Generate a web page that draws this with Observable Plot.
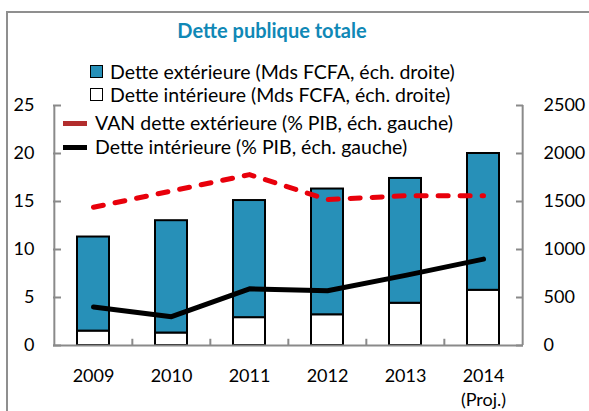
<!DOCTYPE html>
<html><head><meta charset="utf-8">
<script src="https://cdn.jsdelivr.net/npm/d3@7"></script>
<script src="https://cdn.jsdelivr.net/npm/@observablehq/plot@0.6"></script>
<style>
body{margin:0;background:#fff;}
#wrap{position:relative;width:589px;height:411px;overflow:hidden;font-family:Lato,"Open Sans",sans-serif;color:#000;}
#frame{position:absolute;left:6px;top:11px;width:700px;height:500px;border:2px solid #8f8f8f;box-sizing:border-box;}
#title{position:absolute;left:0;width:544px;top:18px;text-align:center;font-weight:bold;font-size:20px;color:#1088b6;}
.leg{position:absolute;font-size:19.5px;white-space:nowrap;line-height:22px;}
.sq{position:absolute;width:11px;height:11px;border:1.5px solid #000;}
.ln{position:absolute;width:24px;height:5px;}
#plot{position:absolute;left:0;top:0;}
</style></head><body><div id="wrap">
<div id="frame"></div>
<div id="title">Dette publique totale</div>
<div id="legend"></div>
<div id="plot"></div>
</div>
<script>
const years = ["2009","2010","2011","2012","2013","2014"];
const yearLabels = ["2009","2010","2011","2012","2013","2014\n(Proj.)"];
const detteInterieureMds = [150,130,290,320,440,575];
const detteExterieureMds = [980,1170,1220,1310,1300,1425];
const vanDetteExterieurePIB = [14.4,16.1,17.8,15.2,15.6,15.6];
const detteInterieurePIB = [4.0,3.0,5.9,5.7,7.3,9.0];
const leftTicks = [0,5,10,15,20,25];
const rightTicks = [0,500,1000,1500,2000,2500];
const legendLabels = [
  "Dette extérieure (Mds FCFA, éch. droite)",
  "Dette intérieure (Mds FCFA, éch. droite)",
  "VAN dette extérieure (% PIB, éch. gauche)",
  "Dette intérieure (% PIB, éch. gauche)"
];

const rightScale = 2500/25;
const blue = "#2790b8", axisGray = "#8a8a8a";
const W = 589, H = 411, mL = 53, mR = 66, mT = 105, mB = 66;
const plotW = W - mL - mR;
const step = plotW / years.length;

const barRows = [];
years.forEach((y,i) => {
  barRows.push({year:y, fill:"#ffffff", v: detteInterieureMds[i]/rightScale});
  barRows.push({year:y, fill:blue, v: detteExterieureMds[i]/rightScale});
});
const lineRows = years.map((y,i) => ({year:y, van: vanDetteExterieurePIB[i], di: detteInterieurePIB[i]}));

const chart = Plot.plot({
  width: W, height: H, marginLeft: mL, marginRight: mR, marginTop: mT, marginBottom: mB,
  style: {fontFamily: "Lato, 'Open Sans', sans-serif", fontSize: "18px", color: "#000", background: "transparent", overflow: "visible"},
  x: {domain: years, paddingInner: 0.59, paddingOuter: 0.295, axis: null},
  y: {domain: [0,25], axis: null},
  color: {type: "identity"},
  marks: [
    Plot.barY(barRows, Plot.stackY({x: "year", y: "v", fill: "fill", stroke: "#000", strokeWidth: 2})),
    // axis lines
    Plot.ruleY([0], {stroke: axisGray, strokeWidth: 2}),
    Plot.ruleX([years[0]], {x: d => d, y1: 0, y2: 25, dx: -step/2, stroke: axisGray, strokeWidth: 2}),
    Plot.ruleX([years[years.length-1]], {x: d => d, y1: 0, y2: 25, dx: step/2, stroke: axisGray, strokeWidth: 2}),
    // x ticks between categories
    Plot.ruleX(years.slice(1), {x: d => d, y1: 0, y2: 0.65, dx: -step/2, stroke: axisGray, strokeWidth: 2}),
    // inward y ticks
    Plot.tickY(leftTicks, {y: d => d, insetRight: plotW - 8, stroke: axisGray, strokeWidth: 2}),
    Plot.tickY(leftTicks, {y: d => d, insetLeft: plotW - 7, stroke: axisGray, strokeWidth: 2}),
    // tick labels
    Plot.axisY({anchor: "left", ticks: leftTicks, tickSize: 0, tickPadding: 19, fill: "#000", label: null}),
    Plot.axisY({anchor: "right", ticks: leftTicks, tickFormat: d => String(d*rightScale), tickSize: 0, tickPadding: 20, fill: "#000", label: null}),
    Plot.axisX({ticks: years, tickFormat: d => yearLabels[years.indexOf(d)], tickSize: 0, tickPadding: 19, lineHeight: 1.35, fill: "#000", label: null}),
    Plot.line(lineRows, {x: "year", y: "van", stroke: "#e8000b", strokeWidth: 5, strokeDasharray: "10,12", strokeLinecap: "round"}),
    Plot.line(lineRows, {x: "year", y: "di", stroke: "#000", strokeWidth: 5, strokeLinejoin: "round", strokeLinecap: "round"})
  ]
});
document.getElementById("plot").appendChild(chart);

const leg = document.getElementById("legend");
const rows = [
  {y: 72, tx: 110, sym: "sq", color: blue},
  {y: 95, tx: 110, sym: "sq", color: "#fff"},
  {y: 123, tx: 95, sym: "ln", color: "#b22d2d"},
  {y: 147, tx: 95, sym: "ln", color: "#000"}
];
rows.forEach((r,i) => {
  const s = document.createElement("div");
  s.className = r.sym;
  if (r.sym === "sq") { s.style.left = "90px"; s.style.top = (r.y - 7) + "px"; s.style.background = r.color; }
  else { s.style.left = "63px"; s.style.top = (r.y - 2.5) + "px"; s.style.background = r.color; }
  leg.appendChild(s);
  const t = document.createElement("div");
  t.className = "leg";
  t.style.left = r.tx + "px";
  t.style.top = (r.y - 11) + "px";
  t.textContent = legendLabels[i];
  leg.appendChild(t);
});
</script>
</body></html>
